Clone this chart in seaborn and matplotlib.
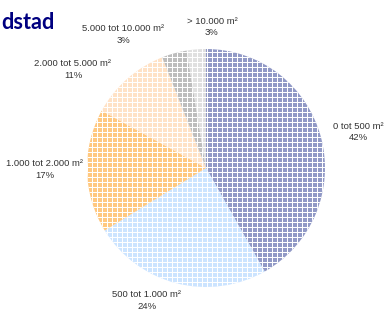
import matplotlib
matplotlib.use("Agg")
import matplotlib.pyplot as plt
import seaborn as sns

sizes = ["0 tot 500 m²", "500 tot 1.000 m²", "1.000 tot 2.000 m²",
         "2.000 tot 5.000 m²", "5.000 tot 10.000 m²", "> 10.000 m²"]
shares = [41.8, 24.4, 16.8, 11.0, 3.4, 2.6]
colors = ["#9199c6", "#cce4ff", "#ffc880", "#ffe2c6", "#bdbdbd", "#e0e0e0"]
title = "dstad"

# label spots (data units, pie radius = 1)
label_pos = [(1.277, 0.303), (-0.496, -1.113), (-1.353, -0.013),
             (-1.118, 0.828), (-0.697, 1.122), (0.05, 1.185)]

sns.set_style("white")
plt.rcParams["hatch.linewidth"] = 0.6
plt.rcParams["font.family"] = ["Liberation Sans", "DejaVu Sans"]

DPI = 120
fig = plt.figure(figsize=(385 / DPI, 311 / DPI), dpi=DPI)
ax = fig.add_axes([0, 0, 1, 1])

wedges, _ = ax.pie(shares, colors=colors, startangle=90, counterclock=False,
                   wedgeprops=dict(edgecolor="white", linewidth=0, hatch="++++"))

total = sum(shares)
for name, val, (x, y) in zip(sizes, shares, label_pos):
    ax.text(x, y, f"{name}\n{val / total * 100:.0f}%", ha="center", va="center",
            fontsize=5.7, color="#333333", linespacing=1.35)

# pie centre at (206, 168) px, radius 119 px
r = 119
ax.set_xlim(-206 / r, (385 - 206) / r)
ax.set_ylim(-(311 - 168) / r, 168 / r)
ax.set_aspect("auto")
ax.axis("off")

fig.text(0.002, 1 - 29 / 311, title, ha="left", va="baseline",
         fontsize=13, fontweight="bold", color="#000080", family="Lato")

fig.savefig("out.png", dpi=DPI)
